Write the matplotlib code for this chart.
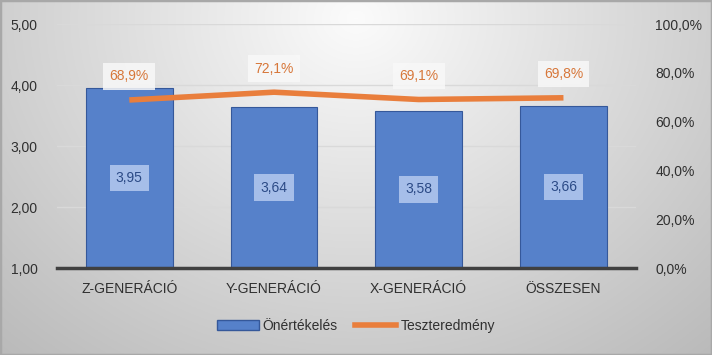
import numpy as np
import matplotlib.pyplot as plt
from matplotlib.lines import Line2D
from matplotlib.patches import Patch

categories = ["Z-GENERÁCIÓ", "Y-GENERÁCIÓ", "X-GENERÁCIÓ", "ÖSSZESEN"]
self_rating = [3.95, 3.64, 3.58, 3.66]
test_result = [68.9, 72.1, 69.1, 69.8]

bar_color = "#5681CA"
line_color = "#E97E3C"

plt.rcParams["font.family"] = ["Liberation Sans", "DejaVu Sans"]
plt.rcParams["font.size"] = 10

fig = plt.figure(figsize=(7.12, 3.55), dpi=100)

# gradient background, light at the top middle, grey towards the edges
bg = fig.add_axes([0, 0, 1, 1], zorder=-10)
yy, xx = np.mgrid[0:1:200j, 0:1:400j]
r = np.sqrt(((xx - 0.5) / 0.7) ** 2 + ((yy - 0.05) / 1.2) ** 2)
shade = 0.985 - 0.24 * np.clip(r, 0, 1.2)
bg.imshow(np.dstack([shade] * 3), aspect="auto", extent=[0, 1, 0, 1], origin="upper")
bg.set_axis_off()
fig.patches.append(plt.Rectangle((0, 0), 1, 1, transform=fig.transFigure,
                                 fill=False, edgecolor="#a8a8a8", linewidth=2.5))

ax = fig.add_axes([0.080, 0.245, 0.813, 0.687])
ax.set_facecolor("none")
x = np.arange(len(categories))

ax.bar(x, self_rating, width=0.6, bottom=0, color=bar_color,
       edgecolor="#35589A", linewidth=0.8, zorder=3)
ax.set_ylim(1, 5)
ax.set_xlim(-0.5, len(categories) - 0.5)
ax.set_yticks([1, 2, 3, 4, 5])
ax.set_yticklabels([f"{v:.2f}".replace(".", ",") for v in [1, 2, 3, 4, 5]])
ax.set_xticks(x)
ax.set_xticklabels(categories)
ax.tick_params(length=0, colors="#303030", labelsize=10)
ax.tick_params(axis="x", pad=10)
ax.tick_params(axis="y", pad=14)
ax.grid(axis="y", color="#d9d9d9", linewidth=1, zorder=0)
for s in ["top", "right", "left"]:
    ax.spines[s].set_visible(False)
ax.spines["bottom"].set_color("#404040")
ax.spines["bottom"].set_linewidth(2.5)
ax.spines["bottom"].set_zorder(5)

for xi, v in zip(x, self_rating):
    ax.text(xi, (1 + v) / 2, f"{v:.2f}".replace(".", ","), ha="center", va="center",
            color="#2B4A86", fontsize=10, zorder=6,
            bbox=dict(boxstyle="square,pad=0.45", facecolor="#A6BEE9", edgecolor="none"))

ax2 = ax.twinx()
ax2.plot(x, test_result, color=line_color, linewidth=4, solid_capstyle="butt", zorder=4)
ax2.set_ylim(0, 100)
ax2.set_yticks([0, 20, 40, 60, 80, 100])
ax2.set_yticklabels([f"{v:.1f}%".replace(".", ",") for v in [0, 20, 40, 60, 80, 100]])
ax2.tick_params(length=0, colors="#303030", labelsize=10, pad=14)
for s in ["top", "right", "left", "bottom"]:
    ax2.spines[s].set_visible(False)

for xi, v in zip(x, test_result):
    ax2.annotate(f"{v:.1f}%".replace(".", ","), (xi, v), xytext=(0, 17), textcoords="offset points",
                 ha="center", va="center", color="#D7773A", fontsize=10,
                 bbox=dict(boxstyle="square,pad=0.45", facecolor="#f8f8f8", edgecolor="none", alpha=0.85))

handles = [Patch(facecolor=bar_color, edgecolor="#35589A", label="Önértékelés"),
           Line2D([0], [0], color=line_color, linewidth=4, label="Teszteredmény")]
fig.legend(handles=handles, loc="center", bbox_to_anchor=(0.5, 0.082), ncol=2, frameon=False,
           fontsize=10, handlelength=3.0, handletextpad=0.3, columnspacing=1.2,
           labelcolor="#303030")

fig.savefig("out.png", dpi=100)
